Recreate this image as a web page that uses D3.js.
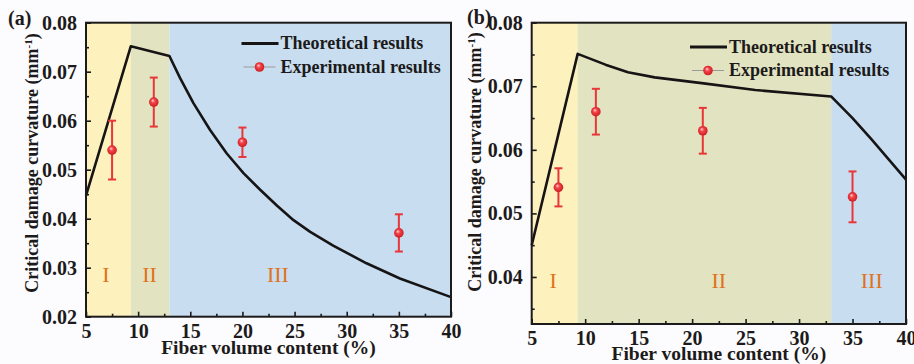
<!DOCTYPE html>
<html>
<head>
<meta charset="utf-8">
<script src="https://cdn.jsdelivr.net/npm/d3@7"></script>
<style>
  html, body { margin: 0; padding: 0; background: #fcfcfe; }
  svg { display: block; }
  text { font-family: "Liberation Serif", "Times New Roman", serif; }
</style>
</head>
<body>
<svg id="chart" width="914" height="364"></svg>
<script>
// ---- data ----
const xTicks = [5, 10, 15, 20, 25, 30, 35, 40];
const xMinorTicks = [7.5, 12.5, 17.5, 22.5, 27.5, 32.5, 37.5];
const yTicksA = [0.02, 0.03, 0.04, 0.05, 0.06, 0.07, 0.08];
const yMinorTicksA = [0.025, 0.035, 0.045, 0.055, 0.065, 0.075];
const yTicksB = [0.04, 0.05, 0.06, 0.07, 0.08];
const yMinorTicksB = [0.035, 0.045, 0.055, 0.065, 0.075];

// panel (a): theoretical curve
const theoryXA = [5, 9.3, 13, 14, 15.3, 16.9, 18.5, 20.1, 21.7, 23.3, 24.9, 26.5, 28.7, 31.9, 35.1, 40];
const theoryYA = [0.0447, 0.0752, 0.0732, 0.0688, 0.0636, 0.0581, 0.0533, 0.0493, 0.0459, 0.0427, 0.0397, 0.0373, 0.0345, 0.0309, 0.0278, 0.0240];
// panel (a): experimental points
const expXA = [7.5, 11.5, 20, 35];
const expYA = [0.054, 0.0638, 0.0556, 0.0371];
const expErrA = [0.006, 0.005, 0.003, 0.0038];

// panel (b): theoretical curve
const theoryXB = [5, 9.3, 11.9, 14, 16.5, 20.9, 25.9, 33, 35, 36.8, 40];
const theoryYB = [0.0450, 0.0751, 0.0734, 0.0722, 0.0714, 0.0705, 0.0694, 0.0684, 0.0650, 0.0616, 0.0553];
// panel (b): experimental points
const expXB = [7.5, 11, 21, 35];
const expYB = [0.0541, 0.0660, 0.0630, 0.0526];
const expErrB = [0.003, 0.0036, 0.0036, 0.004];

// regions
const zoneNames = ["I", "II", "III"];
const zoneEdgesA = [5, 9.3, 13, 40];
const zoneEdgesB = [5, 9.3, 33, 40];
const zoneLabelXA = [6.9, 11.1, 23.4];
const zoneLabelXB = [7.0, 22.5, 36.8];
const zoneLabelYA = 0.0286;
const zoneLabelYB = 0.0395;

const legendLabels = ["Theoretical results", "Experimental results"];
const xTitle = "Fiber volume content (%)";
const yTitle = "Critical damage curvature (mm";
const panelLabels = ["(a)", "(b)"];

// ---- styling ----
const zoneColors = ["#fdf1bd", "#e2e4c1", "#c8def0"];
const zoneTextColor = "#e0721c";
const axisColor = "#1c1a1a";
const errColor = "#e8363a";

const svg = d3.select("#chart");

const defs = svg.append("defs");
const grad = defs.append("radialGradient")
  .attr("id", "ball").attr("cx", "50%").attr("cy", "50%").attr("r", "60%")
  .attr("fx", "38%").attr("fy", "32%");
grad.append("stop").attr("offset", "0%").attr("stop-color", "#ffd4d4");
grad.append("stop").attr("offset", "35%").attr("stop-color", "#f2444a");
grad.append("stop").attr("offset", "100%").attr("stop-color", "#c41418");

function drawPanel(cfg) {
  const g = svg.append("g");
  const x = d3.scaleLinear().domain([5, 40]).range([cfg.left, cfg.right]);
  const y = d3.scaleLinear().domain(cfg.yDomain).range([cfg.bottom, cfg.top]);

  // shaded regions
  g.selectAll("rect.zone")
    .data(d3.range(zoneNames.length))
    .join("rect")
    .attr("class", "zone")
    .attr("x", i => x(cfg.edges[i]))
    .attr("width", i => x(cfg.edges[i + 1]) - x(cfg.edges[i]))
    .attr("y", cfg.top)
    .attr("height", cfg.bottom - cfg.top)
    .attr("fill", (d, i) => zoneColors[i]);

  // region labels
  g.selectAll("text.zlab")
    .data(d3.range(zoneNames.length))
    .join("text")
    .attr("class", "zlab")
    .attr("x", i => x(cfg.zoneLabelX[i]))
    .attr("y", y(cfg.zoneLabelY))
    .attr("dy", "0.35em")
    .attr("text-anchor", "middle")
    .attr("font-size", 22)
    .attr("fill", zoneTextColor)
    .text(i => zoneNames[i]);

  // theoretical curve
  const line = d3.line().x(d => x(d[0])).y(d => y(d[1]));
  g.append("path")
    .datum(cfg.tx.map((v, i) => [v, cfg.ty[i]]))
    .attr("d", line)
    .attr("fill", "none")
    .attr("stroke", "#161414")
    .attr("stroke-width", 2.6)
    .attr("stroke-linejoin", "round");

  // experimental error bars + markers
  const pts = cfg.ex.map((v, i) => ({ x: v, y: cfg.ey[i], e: cfg.ee[i] }));
  const eb = g.selectAll("g.eb").data(pts).join("g").attr("class", "eb");
  eb.append("line")
    .attr("x1", d => x(d.x)).attr("x2", d => x(d.x))
    .attr("y1", d => y(d.y - d.e)).attr("y2", d => y(d.y + d.e))
    .attr("stroke", errColor).attr("stroke-width", 2);
  [-1, 1].forEach(s => {
    eb.append("line")
      .attr("x1", d => x(d.x) - 4).attr("x2", d => x(d.x) + 4)
      .attr("y1", d => y(d.y + s * d.e)).attr("y2", d => y(d.y + s * d.e))
      .attr("stroke", errColor).attr("stroke-width", 2);
  });
  eb.append("circle")
    .attr("cx", d => x(d.x)).attr("cy", d => y(d.y)).attr("r", 4.8)
    .attr("fill", "url(#ball)");

  // axes (ticks point inward)
  const fmtY = d3.format(".2f");
  g.append("g").attr("transform", `translate(0,${cfg.bottom})`)
    .call(d3.axisBottom(x).tickValues(xTicks).tickSize(-5).tickPadding(7).tickFormat(d3.format("d")));
  g.append("g").attr("transform", `translate(0,${cfg.bottom})`)
    .call(d3.axisBottom(x).tickValues(xMinorTicks).tickSize(-3).tickFormat(""));
  g.append("g").attr("transform", `translate(${cfg.left},0)`)
    .call(d3.axisLeft(y).tickValues(cfg.yTicks).tickSize(-5).tickPadding(9).tickFormat(fmtY));
  g.append("g").attr("transform", `translate(${cfg.left},0)`)
    .call(d3.axisLeft(y).tickValues(cfg.yMinor).tickSize(-3).tickFormat(""));

  g.selectAll(".domain").remove();
  g.selectAll(".tick line").attr("stroke", axisColor).attr("stroke-width", 1.6);
  g.selectAll(".tick text")
    .attr("fill", axisColor)
    .attr("font-family", "Liberation Serif, Times New Roman, serif")
    .attr("font-weight", "bold")
    .attr("font-size", 20);

  // frame
  g.append("rect")
    .attr("x", cfg.left).attr("y", cfg.top)
    .attr("width", cfg.right - cfg.left).attr("height", cfg.bottom - cfg.top)
    .attr("fill", "none").attr("stroke", axisColor).attr("stroke-width", 2);

  // axis titles
  g.append("text")
    .attr("x", (cfg.left + cfg.right) / 2)
    .attr("y", cfg.bottom + cfg.xTitleOffset)
    .attr("text-anchor", "middle")
    .attr("font-weight", "bold").attr("font-size", 19.5)
    .attr("fill", axisColor)
    .text(xTitle);

  const yt = g.append("text")
    .attr("transform", `translate(${cfg.yTitleX},${cfg.yTitleY}) rotate(-90)`)
    .attr("text-anchor", "middle")
    .attr("font-weight", "bold").attr("font-size", 18)
    .attr("fill", axisColor);
  yt.append("tspan").text(yTitle);
  yt.append("tspan").attr("baseline-shift", "super").attr("font-size", 11).text("-1");
  yt.append("tspan").text(")");

  // panel tag
  g.append("text")
    .attr("x", cfg.tagX).attr("y", cfg.tagY)
    .attr("font-weight", "bold").attr("font-size", 20)
    .attr("fill", axisColor)
    .text(cfg.tag);

  // legend
  const lg = g.append("g");
  lg.append("line")
    .attr("x1", cfg.legX).attr("x2", cfg.legX + 37)
    .attr("y1", cfg.legY).attr("y2", cfg.legY)
    .attr("stroke", "#161414").attr("stroke-width", 2.8);
  lg.append("text")
    .attr("x", cfg.legX + 39).attr("y", cfg.legY).attr("dy", "0.33em")
    .attr("font-weight", "bold").attr("font-size", 18).attr("fill", axisColor)
    .text(legendLabels[0]);
  const ly2 = cfg.legY + 23.5;
  lg.append("line")
    .attr("x1", cfg.legX + 2).attr("x2", cfg.legX + 34)
    .attr("y1", ly2).attr("y2", ly2)
    .attr("stroke", "#9a9a9a").attr("stroke-width", 1);
  lg.append("circle")
    .attr("cx", cfg.legX + 18).attr("cy", ly2).attr("r", 4.8)
    .attr("fill", "url(#ball)");
  lg.append("text")
    .attr("x", cfg.legX + 39).attr("y", ly2).attr("dy", "0.33em")
    .attr("font-weight", "bold").attr("font-size", 18).attr("fill", axisColor)
    .text(legendLabels[1]);
}

drawPanel({
  left: 86, right: 451, top: 22.7, bottom: 316.7,
  yDomain: [0.02, 0.08], yTicks: yTicksA, yMinor: yMinorTicksA,
  edges: zoneEdgesA, zoneLabelX: zoneLabelXA, zoneLabelY: zoneLabelYA,
  tx: theoryXA, ty: theoryYA, ex: expXA, ey: expYA, ee: expErrA,
  xTitleOffset: 37.5, yTitleX: 38, yTitleY: 163,
  tag: panelLabels[0], tagX: 8, tagY: 25,
  legX: 241.5, legY: 43.5
});

drawPanel({
  left: 531.7, right: 906, top: 22.7, bottom: 324,
  yDomain: [0.0326, 0.08], yTicks: yTicksB, yMinor: yMinorTicksB,
  edges: zoneEdgesB, zoneLabelX: zoneLabelXB, zoneLabelY: zoneLabelYB,
  tx: theoryXB, ty: theoryYB, ex: expXB, ey: expYB, ee: expErrB,
  xTitleOffset: 35.5, yTitleX: 481, yTitleY: 162,
  tag: panelLabels[1], tagX: 467, tagY: 24,
  legX: 690, legY: 47
});
</script>
</body>
</html>
